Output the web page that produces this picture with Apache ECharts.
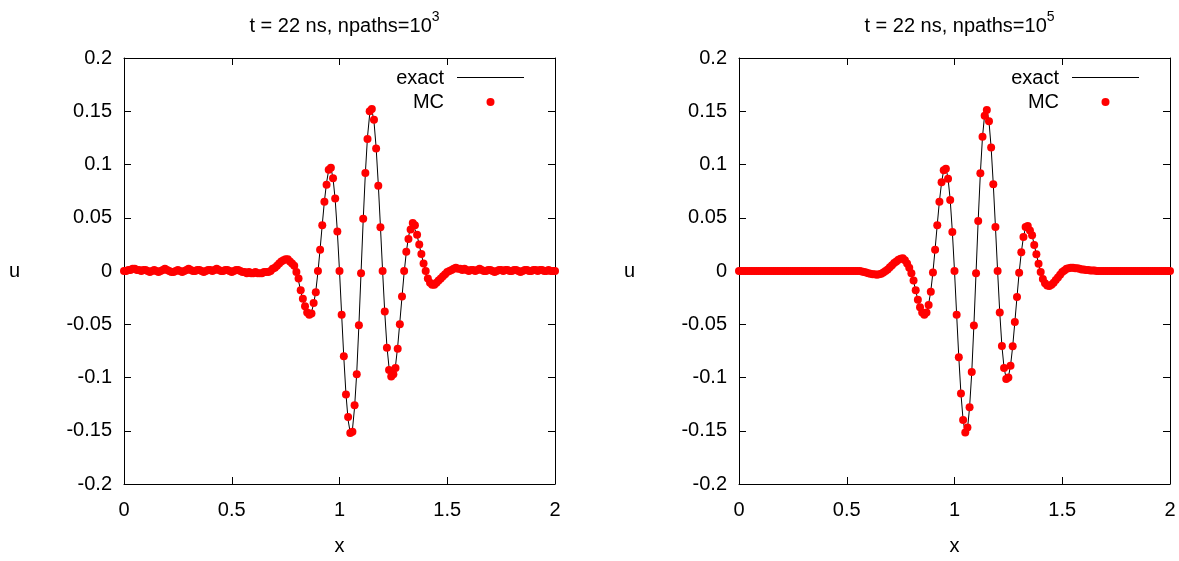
<!DOCTYPE html>
<html>
<head>
<meta charset="utf-8">
<script src="https://cdn.jsdelivr.net/npm/echarts@6/dist/echarts.min.js"></script>
<style>html,body{margin:0;padding:0;background:#fff;}#c{width:1179px;height:561px;}</style>
</head>
<body>
<div id="c"></div>
<script>
// u(x) sampled at x = 0.00, 0.01, ..., 2.00
const exact = [
0,0,0,0,0,0,0,0,0,0,
0,0,0,0,0,0,0,0,0,0,
0,0,0,0,0,0,0,0,0,0,
0,0,0,0,0,0,0,0,0,0,
0,0,0,0,0,0,0,0,0,0,
0,0,0,0,0,0,0,-0.0005,-0.001,-0.0015,
-0.002,-0.0025,-0.003,-0.003,-0.0035,-0.003,-0.0025,-0.0015,0,0.0015,
0.0035,0.0055,0.0075,0.009,0.0105,0.0115,0.0115,0.010,0.007,0.003,
-0.002,-0.0095,-0.0185,-0.027,-0.034,-0.039,-0.041,-0.0385,-0.031,-0.019,
-0.001,0.0205,0.0435,0.0655,0.083,0.095,0.097,0.087,0.067,0.037,
0,-0.041,-0.081,-0.1155,-0.14,-0.152,-0.149,-0.128,-0.0955,-0.051,
-0.0015,0.048,0.092,0.126,0.147,0.1515,0.1405,0.116,0.0815,0.0415,
0,-0.039,-0.0705,-0.091,-0.101,-0.0995,-0.089,-0.071,-0.048,-0.0245,
-0.0015,0.0175,0.032,0.041,0.0425,0.039,0.0335,0.0245,0.0155,0.007,
-0.001,-0.0075,-0.0115,-0.0135,-0.014,-0.013,-0.011,-0.0085,-0.006,-0.0035,
-0.001,0.0005,0.002,0.0025,0.003,0.003,0.0025,0.0025,0.002,0.0015,
0.0015,0.001,0.001,0.0005,0.0005,0.0005,0,0,0,0,
0,0,0,0,0,0,0,0,0,0,
0,0,0,0,0,0,0,0,0,0,
0,0,0,0,0,0,0,0,0,0,
0
];
const mcLeft = [
0,0,0.001,0.001,0.002,0.002,0.001,0.001,0,0.001,
0.001,0,-0.001,0,0.001,0,-0.001,0,0.001,0.002,
0.001,0,-0.001,-0.001,0,0.001,0,-0.001,0,0.001,
0.002,0.001,0,0,0.001,0.001,0,-0.001,0,0.001,
0.001,0,0.001,0.002,0.001,0,0,0.001,0.001,0,
-0.001,0,0.001,0.001,0,-0.001,-0.001,-0.002,-0.001,-0.002,
-0.002,-0.001,-0.002,-0.002,-0.002,-0.001,-0.001,-0.001,0,0.002,
0.003,0.005,0.007,0.009,0.010,0.011,0.011,0.009,0.007,0.005,
-0.001,-0.007,-0.018,-0.026,-0.033,-0.039,-0.041,-0.040,-0.030,-0.020,
0,0.020,0.043,0.065,0.081,0.095,0.097,0.087,0.068,0.037,
0,-0.041,-0.080,-0.116,-0.137,-0.152,-0.151,-0.126,-0.097,-0.051,
-0.002,0.049,0.092,0.124,0.150,0.152,0.142,0.115,0.080,0.041,
0,-0.038,-0.072,-0.093,-0.099,-0.097,-0.091,-0.073,-0.050,-0.024,
0,0.018,0.030,0.039,0.045,0.043,0.034,0.025,0.016,0.007,
0,-0.007,-0.011,-0.013,-0.013,-0.011,-0.009,-0.007,-0.005,-0.003,
-0.001,0,0.001,0.002,0.003,0.002,0.002,0.001,0.002,0.001,
0,0.001,0.001,0,0.001,0.002,0.001,0,0,0.001,
0.001,0,-0.001,0,0.001,0.001,0,0.001,0.001,0,
0,0.001,0.001,0,-0.001,0,0.001,0.001,0,0,
0.001,0.001,0,0.001,0.001,0,0,0.001,0,0,
0
];
const mcRight = [
0,0,0,0,0,0,0,0,0,0,
0,0,0,0,0,0,0,0,0,0,
0,0,0,0,0,0,0,0,0,0,
0,0,0,0,0,0,0,0,0,0,
0,0,0,0,0,0,0,0,0,0,
0,0,0,0,0,0,0,-0.0005,-0.001,-0.0015,
-0.002,-0.0025,-0.003,-0.003,-0.0035,-0.003,-0.0025,-0.0015,0,0.0015,
0.0035,0.0055,0.0075,0.009,0.0105,0.0115,0.012,0.010,0.007,0.003,
-0.002,-0.009,-0.018,-0.027,-0.034,-0.039,-0.041,-0.039,-0.032,-0.0195,
-0.0015,0.020,0.043,0.065,0.0833,0.0947,0.096,0.0867,0.0667,0.0367,
0,-0.041,-0.081,-0.115,-0.140,-0.1516,-0.147,-0.128,-0.0948,-0.0512,
-0.002,0.047,0.0917,0.126,0.1457,0.1512,0.1407,0.116,0.0815,0.0414,
0,-0.0389,-0.0704,-0.091,-0.1015,-0.100,-0.089,-0.0707,-0.048,-0.0244,
-0.0016,0.0176,0.032,0.0414,0.0423,0.038,0.0336,0.0244,0.0157,0.0068,
-0.001,-0.0074,-0.0115,-0.0135,-0.014,-0.013,-0.011,-0.0085,-0.006,-0.0035,
-0.001,0.0005,0.002,0.0025,0.003,0.003,0.0025,0.0025,0.002,0.0015,
0.0015,0.001,0.001,0.0005,0.0005,0.0005,0,0,0,0,
0,0,0,0,0,0,0,0,0,0,
0,0,0,0,0,0,0,0,0,0,
0,0,0,0,0,0,0,0,0,0,
0
];
const xTicks = [0, 0.5, 1, 1.5, 2];
const yTicks = [-0.2, -0.15, -0.1, -0.05, 0, 0.05, 0.1, 0.15, 0.2];
const titles = ['t = 22 ns, npaths=10', 't = 22 ns, npaths=10'];
const titleExp = ['3', '5'];
const legendNames = ['exact', 'MC'];

const xs = exact.map((_, i) => i / 100);
const pairs = arr => arr.map((v, i) => [xs[i], v]);

const FONT = 'Liberation Sans, Arial, sans-serif';
const FS = 20;
const grids = [
  {left: 124, top: 58, width: 431, height: 432},
  {left: 739, top: 58, width: 431, height: 432}
];
const tickCommon = {show: true, inside: true, length: 7, lineStyle: {color: '#000', width: 1}};
const lineCommon = {show: true, onZero: false, lineStyle: {color: '#000', width: 1}};
const xAxes = [], yAxes = [];
grids.forEach((g, gi) => {
  xAxes.push({type: 'value', gridIndex: gi, position: 'bottom', min: xTicks[0], max: xTicks[xTicks.length-1], interval: xTicks[1]-xTicks[0],
    axisLine: lineCommon, axisTick: tickCommon, splitLine: {show: false},
    axisLabel: {show: true, color: '#000', fontSize: FS, fontFamily: FONT, margin: 16},
    name: 'x', nameLocation: 'middle', nameGap: 52, nameTextStyle: {color: '#000', fontSize: FS, fontFamily: FONT}});
  xAxes.push({type: 'value', gridIndex: gi, position: 'top', min: xTicks[0], max: xTicks[xTicks.length-1], interval: xTicks[1]-xTicks[0],
    axisLine: lineCommon, axisTick: tickCommon, splitLine: {show: false}, axisLabel: {show: false}});
  yAxes.push({type: 'value', gridIndex: gi, position: 'left', min: yTicks[0], max: yTicks[yTicks.length-1], interval: 0.05,
    axisLine: lineCommon, axisTick: tickCommon, splitLine: {show: false},
    axisLabel: {show: true, color: '#000', fontSize: FS, fontFamily: FONT, margin: 12,
      formatter: v => String(Math.round(v * 100) / 100)},
    name: 'u', nameLocation: 'middle', nameGap: 104, nameRotate: 0, nameTextStyle: {color: '#000', fontSize: FS, fontFamily: FONT}});
  yAxes.push({type: 'value', gridIndex: gi, position: 'right', min: yTicks[0], max: yTicks[yTicks.length-1], interval: 0.05,
    axisLine: lineCommon, axisTick: tickCommon, splitLine: {show: false}, axisLabel: {show: false}});
});

const series = [];
[exact, exact].forEach((arr, gi) => {
  series.push({name: legendNames[0], type: 'line', xAxisIndex: gi*2, yAxisIndex: gi*2, data: pairs(arr),
    showSymbol: false, symbol: 'none', lineStyle: {color: '#000', width: 1}, itemStyle: {color: '#000'}, z: 2, silent: true});
});
[mcLeft, mcRight].forEach((arr, gi) => {
  series.push({name: legendNames[1], type: 'scatter', xAxisIndex: gi*2, yAxisIndex: gi*2, data: pairs(arr),
    symbol: 'circle', symbolSize: 8, itemStyle: {color: '#ff0000', opacity: 1}, z: 3, silent: true, clip: false});
});

const graphics = [];
grids.forEach((g, gi) => {
  const textRight = g.left + 320;
  const lineStart = g.left + 333, lineEnd = g.left + 400;
  graphics.push({type: 'text', x: textRight, y: 78, style: {text: legendNames[0], fill: '#000', font: FS + 'px ' + FONT, align: 'right', verticalAlign: 'middle'}});
  graphics.push({type: 'text', x: textRight, y: 102, style: {text: legendNames[1], fill: '#000', font: FS + 'px ' + FONT, align: 'right', verticalAlign: 'middle'}});
  graphics.push({type: 'line', shape: {x1: lineStart, y1: 77.5, x2: lineEnd, y2: 77.5}, style: {stroke: '#000', lineWidth: 1}});
  graphics.push({type: 'circle', shape: {cx: (lineStart + lineEnd) / 2, cy: 102, r: 4}, style: {fill: '#ff0000'}});
});

const chart = echarts.init(document.getElementById('c'), null, {renderer: 'canvas'});
chart.setOption({
  animation: false,
  backgroundColor: '#fff',
  title: grids.map((g, gi) => ({
    text: '{a|' + titles[gi] + '}{b|' + titleExp[gi] + '}',
    left: g.left + g.width / 2, top: 5, textAlign: 'center',
    textStyle: {fontWeight: 'normal', rich: {
      a: {fontSize: FS, fontFamily: FONT, fontWeight: 'normal', color: '#000', lineHeight: 26, verticalAlign: 'bottom'},
      b: {fontSize: 14, fontFamily: FONT, fontWeight: 'normal', color: '#000', lineHeight: 26, verticalAlign: 'top', padding: [0,0,8,0]}
    }}
  })),
  grid: grids,
  xAxis: xAxes,
  yAxis: yAxes,
  series: series,
  graphic: graphics
});
</script>
</body>
</html>
